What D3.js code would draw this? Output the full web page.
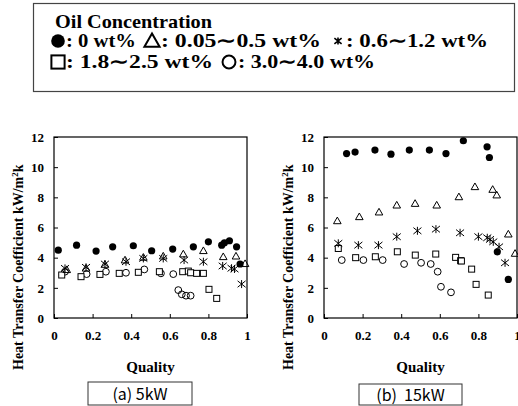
<!DOCTYPE html>
<html>
<head>
<meta charset="utf-8">
<script src="https://cdn.jsdelivr.net/npm/d3@7"></script>
<style>
  body { margin: 0; background: #fff; }
  svg { display: block; }
  .tick text { font-family: "Liberation Serif", "Times New Roman", serif; font-weight: bold; font-size: 13px; fill: #000; }
  .tick line { stroke: #000; }
</style>
</head>
<body>
<svg id="chart" width="518" height="406"></svg>
<script>
// quality ticks / htc ticks
var xTicks = [0, 0.2, 0.4, 0.6, 0.8, 1];
var yTicks = [0, 2, 4, 6, 8, 10, 12];

// (a) 5kW : [quality, HTC kW/m2K]
var a_oil0 = [[0.022, 4.5], [0.117, 4.83], [0.218, 4.44], [0.304, 4.72], [0.411, 4.79], [0.506, 4.46],
  [0.615, 4.57], [0.722, 4.72], [0.8, 5.05], [0.869, 4.83], [0.883, 4.99], [0.909, 5.12], [0.946, 4.72], [0.964, 3.58]];
var a_oil05 = [[0.066, 3.2], [0.166, 3.3], [0.264, 3.55], [0.368, 3.84], [0.463, 4.02], [0.566, 4.1],
  [0.67, 4.24], [0.774, 4.46], [0.877, 4.06], [0.943, 4.1], [0.99, 3.6]];
var a_oil12 = [[0.057, 3.29], [0.166, 3.36], [0.264, 3.58], [0.373, 3.73], [0.463, 3.95], [0.566, 3.95],
  [0.674, 3.84], [0.774, 3.73], [0.874, 3.45], [0.92, 3.3], [0.935, 3.25], [0.972, 2.25]];
var a_oil25 = [[0.04, 2.85], [0.14, 2.74], [0.238, 2.89], [0.338, 2.96], [0.437, 3.03], [0.546, 3.07],
  [0.667, 3.07], [0.696, 3.11], [0.708, 3.0], [0.739, 2.96], [0.774, 2.96], [0.803, 1.9], [0.843, 1.3]];
var a_oil40 = [[0.057, 3.07], [0.169, 2.91], [0.269, 3.07], [0.373, 3.0], [0.468, 3.22], [0.554, 2.96],
  [0.618, 2.91], [0.644, 1.85], [0.662, 1.57], [0.684, 1.48], [0.708, 1.48]];

// (b) 15kW
var b_oil0 = [[0.117, 10.9], [0.161, 11.0], [0.264, 11.13], [0.347, 10.86], [0.442, 11.13], [0.546, 11.13],
  [0.632, 10.9], [0.722, 11.75], [0.845, 11.35], [0.857, 10.64], [0.898, 4.39], [0.955, 2.56]];
var b_oil05 = [[0.069, 6.44], [0.183, 6.71], [0.285, 7.02], [0.377, 7.48], [0.472, 7.59], [0.584, 7.48],
  [0.699, 8.03], [0.782, 8.7], [0.874, 8.52], [0.895, 8.15], [0.955, 5.56], [0.99, 4.28]];
var b_oil12 = [[0.074, 4.95], [0.178, 4.83], [0.282, 4.83], [0.377, 5.39], [0.484, 5.78], [0.58, 5.89],
  [0.705, 5.65], [0.8, 5.39], [0.846, 5.32], [0.86, 5.21], [0.877, 5.05], [0.907, 4.72], [0.938, 3.66]];
var b_oil25 = [[0.074, 4.61], [0.164, 4.0], [0.266, 4.06], [0.38, 4.39], [0.473, 4.17], [0.579, 4.24],
  [0.682, 4.02], [0.708, 3.8], [0.712, 3.78], [0.765, 3.24], [0.788, 2.23], [0.851, 1.52]];
var b_oil40 = [[0.092, 3.84], [0.204, 3.84], [0.304, 3.84], [0.415, 3.58], [0.503, 3.66], [0.553, 3.58],
  [0.589, 3.07], [0.606, 2.07], [0.658, 1.7]];

var panels = [
  {left: 54, right: 247, caption: "(a) 5kW", capBox: [88, 382, 104, 23],
    series: [a_oil0, a_oil05, a_oil12, a_oil25, a_oil40]},
  {left: 324, right: 517, caption: "(b)\u00a0 15kW", capBox: [359, 384, 103, 21],
    series: [b_oil0, b_oil05, b_oil12, b_oil25, b_oil40]}
];
var markers = ["dot", "tri", "star", "square", "circle"];

var svg = d3.select("#chart");
var serif = "'Liberation Serif', 'Times New Roman', serif";
var TOP = 137, BOTTOM = 318;

// draw one marker shape into g at (cx, cy)
function drawMarker(g, kind, cx, cy, s, sw) {
    sw = sw || 1;
    if (kind === "dot") {
        g.append("circle").attr("cx", cx).attr("cy", cy).attr("r", 3.6 * s).attr("fill", "#000");
    } else if (kind === "circle") {
        g.append("circle").attr("cx", cx).attr("cy", cy).attr("r", 3.4 * s)
            .attr("fill", "none").attr("stroke", "#000").attr("stroke-width", sw);
    } else if (kind === "square") {
        g.append("rect").attr("x", cx - 3 * s).attr("y", cy - 3 * s)
            .attr("width", 6 * s).attr("height", 6 * s)
            .attr("fill", "#fff").attr("stroke", "#000").attr("stroke-width", sw);
    } else if (kind === "tri") {
        var h = 3.8 * s;
        g.append("path")
            .attr("d", "M" + cx + "," + (cy - h) + "L" + (cx + h) + "," + (cy + h * 0.75) +
                "L" + (cx - h) + "," + (cy + h * 0.75) + "Z")
            .attr("fill", "none").attr("stroke", "#000").attr("stroke-width", sw);
    } else if (kind === "star") {
        var r = 4 * s;
        var p = "M" + cx + "," + (cy - r) + "L" + cx + "," + (cy + r) +
            "M" + (cx - r) + "," + (cy - r * 0.8) + "L" + (cx + r) + "," + (cy + r * 0.8) +
            "M" + (cx - r) + "," + (cy + r * 0.8) + "L" + (cx + r) + "," + (cy - r * 0.8);
        g.append("path").attr("d", p).attr("fill", "none").attr("stroke", "#000").attr("stroke-width", sw);
    }
}

panels.forEach(function(p) {
    var x = d3.scaleLinear().domain([0, 1]).range([p.left, p.right]);
    var y = d3.scaleLinear().domain([0, 12]).range([BOTTOM, TOP]);

    svg.append("rect")
        .attr("x", p.left).attr("y", TOP)
        .attr("width", p.right - p.left).attr("height", BOTTOM - TOP)
        .attr("fill", "none").attr("stroke", "#000").attr("stroke-width", 1.2);

    var ya = svg.append("g")
        .attr("transform", "translate(" + p.left + ",0)")
        .call(d3.axisLeft(y).tickValues(yTicks).tickFormat(d3.format("d"))
            .tickSizeInner(-4).tickSizeOuter(0).tickPadding(10));
    ya.select(".domain").remove();

    var xa = svg.append("g")
        .attr("transform", "translate(0," + BOTTOM + ")")
        .call(d3.axisBottom(x).tickValues(xTicks).tickFormat(function(d) { return d === 0 || d === 1 ? d : d.toFixed(1); })
            .tickSizeInner(-4).tickSizeOuter(0).tickPadding(13));
    xa.select(".domain").remove();

    // series, plotted in the reference's drawing order
    var mg = svg.append("g");
    [4, 3, 2, 1, 0].forEach(function(si) {
        p.series[si].forEach(function(d) {
            drawMarker(mg, markers[si], x(d[0]), y(d[1]), 1);
        });
    });

    svg.append("text")
        .attr("x", (p.left + p.right) / 2).attr("y", 372)
        .attr("text-anchor", "middle")
        .style("font-family", serif).style("font-weight", "bold").style("font-size", "15px")
        .text("Quality");

    var yl = svg.append("text")
        .attr("transform", "translate(" + (p.left - 31) + ",370) rotate(-90)")
        .attr("text-anchor", "start")
        .style("font-family", serif).style("font-weight", "bold").style("font-size", "14px");
    yl.append("tspan").text("Heat Transfer Coefficient kW/m");
    yl.append("tspan").attr("dy", -5).style("font-size", "9px").text("2");
    yl.append("tspan").attr("dy", 5).text("k");

    svg.append("rect")
        .attr("x", p.capBox[0]).attr("y", p.capBox[1])
        .attr("width", p.capBox[2]).attr("height", p.capBox[3])
        .attr("fill", "#fff").attr("stroke", "#333").attr("stroke-width", 1);
    svg.append("text")
        .attr("x", p.capBox[0] + p.capBox[2] / 2).attr("y", p.capBox[1] + p.capBox[3] / 2 + 6)
        .attr("text-anchor", "middle")
        .style("font-family", "'Noto Sans CJK JP', 'DejaVu Sans', sans-serif").style("font-size", "16px")
        .text(p.caption);
});

// legend box
var lg = svg.append("g");
lg.append("rect").attr("x", 33.5).attr("y", 3.5).attr("width", 481).attr("height", 88)
    .attr("fill", "#fff").attr("stroke", "#444").attr("stroke-width", 1.2);

function ltext(xp, yp, s, len) {
    return lg.append("text").attr("x", xp).attr("y", yp)
        .attr("textLength", len).attr("lengthAdjust", "spacingAndGlyphs")
        .style("font-family", serif).style("font-weight", "bold").style("font-size", "19px")
        .text(s);
}
ltext(55, 28, "Oil Concentration", 157);

var legendItems = [
    {kind: "dot", sx: 58, row: 47, tx: 66, len: 70, label: ": 0 wt%"},
    {kind: "tri", sx: 152, row: 47, tx: 161, len: 160, label: ": 0.05\u223c0.5 wt%"},
    {kind: "star", sx: 338, row: 47, tx: 346, len: 142, label: ": 0.6\u223c1.2 wt%"},
    {kind: "square", sx: 58, row: 68, tx: 66, len: 147, label: ": 1.8\u223c2.5 wt%"},
    {kind: "circle", sx: 229, row: 68, tx: 238, len: 137, label: ": 3.0\u223c4.0 wt%"}
];
var legendScale = {dot: 1.9, tri: 2.0, star: 0.9, square: 2.2, circle: 1.9};
legendItems.forEach(function(it) {
    drawMarker(lg, it.kind, it.sx, it.row - 6, legendScale[it.kind], it.kind === "star" ? 1.6 : 2);
    ltext(it.tx, it.row, it.label, it.len);
});
</script>
</body>
</html>
